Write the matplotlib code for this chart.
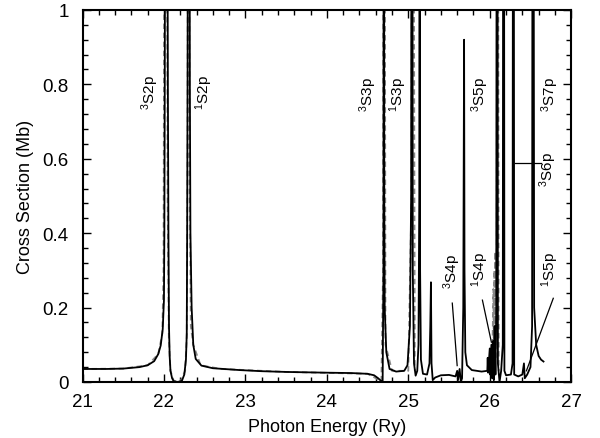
import matplotlib
matplotlib.use("Agg")
import matplotlib.pyplot as plt
from matplotlib.ticker import MultipleLocator, FuncFormatter

plt.rcParams['font.family'] = ['Liberation Sans', 'DejaVu Sans']
plt.rcParams['mathtext.fontset'] = 'custom'
plt.rcParams['mathtext.rm'] = 'Liberation Sans'
plt.rcParams['mathtext.it'] = 'Liberation Sans:italic'
plt.rcParams['mathtext.bf'] = 'Liberation Sans:bold'

# Solid curve (photon energy in Ry, cross section in Mb); peak tops are off-scale
energy = [21.0, 21.3, 21.5, 21.7, 21.8, 21.88, 21.93, 21.96, 21.985, 22.0, 22.005, 22.01, 22.025,
          22.048, 22.055, 22.062, 22.07, 22.08, 22.1, 22.12, 22.17, 22.22, 22.25, 22.27, 22.28,
          22.285, 22.29, 22.305, 22.318, 22.325, 22.34, 22.36, 22.39, 22.46, 22.6, 22.93, 23.2,
          23.5, 24.0, 24.3, 24.5, 24.58, 24.63, 24.67, 24.685, 24.695, 24.70, 24.705, 24.71,
          24.73, 24.77, 24.85, 24.95, 24.99, 25.02, 25.035, 25.045, 25.055, 25.07, 25.09, 25.11,
          25.125, 25.135, 25.14, 25.145, 25.155, 25.18, 25.23, 25.26, 25.27, 25.278, 25.285,
          25.30, 25.33, 25.4, 25.5, 25.58, 25.6, 25.61, 25.63, 25.645, 25.66, 25.675, 25.685,
          25.69, 25.70, 25.72, 25.78, 25.9, 25.97, 25.975, 25.98, 26.0, 26.005, 26.02, 26.03,
          26.04, 26.05, 26.06, 26.07, 26.08, 26.09, 26.1, 26.12, 26.14, 26.16, 26.17, 26.18,
          26.2, 26.26, 26.28, 26.29, 26.3, 26.35, 26.4, 26.42, 26.43, 26.46, 26.5, 26.52, 26.53,
          26.545, 26.57, 26.6, 26.63, 26.66]
cross = [0.035, 0.035, 0.036, 0.040, 0.045, 0.056, 0.075, 0.098, 0.142, 0.22, 0.4, 0.8, 3.0,
         0.8, 0.4, 0.15, 0.07, 0.03, 0.01, 0.002, 0.0, 0.003, 0.02, 0.06, 0.13,
         0.4, 0.8, 3.0, 0.8, 0.4, 0.2, 0.1, 0.062, 0.044, 0.037, 0.032, 0.029,
         0.027, 0.025, 0.024, 0.022, 0.018, 0.01, 0.002, 0.0, 0.3, 3.0, 0.5, 0.2,
         0.08, 0.035, 0.028, 0.03, 0.045, 0.15, 0.5, 3.0, 0.3, 0.05, 0.017, 0.03,
         0.1, 0.5, 3.0, 0.3, 0.06, 0.022, 0.02, 0.05, 0.15, 0.268, 0.05,
         0.005, 0.012, 0.018, 0.019, 0.015, 0.03, 0.005, 0.035, 0.0, 0.01, 0.2, 0.92,
         0.3, 0.08, 0.045, 0.032, 0.028, 0.03, 0.065, 0.025, 0.09, 0.02, 0.1, 0.01,
         0.11, 0.005, 0.15, 0.02, 0.2, 3.0, 0.05, 0.0, 0.03, 0.1, 3.0, 0.03,
         0.018, 0.02, 0.05, 3.0, 0.02, 0.015, 0.02, 0.05, 0.01, 0.02, 0.04, 0.15, 3.0,
         0.2, 0.1, 0.07, 0.06, 0.055]

# Dashed grey curve (second calculation), visible beside the main peaks
energy2a = [21.0, 21.5, 21.8, 21.93, 21.98, 21.995, 22.0, 22.02, 22.045, 22.06, 22.08, 22.12,
            22.2, 22.26, 22.28, 22.29, 22.3, 22.315, 22.33, 22.36, 22.45, 22.7, 23.5, 24.5,
            24.67, 24.69, 24.70, 24.72, 24.8, 25.0, 25.04, 25.05, 25.08]
cross2a = [0.035, 0.036, 0.045, 0.075, 0.13, 0.3, 0.8, 3.0, 0.5, 0.12, 0.03, 0.003,
           0.0, 0.03, 0.12, 0.6, 3.0, 0.6, 0.15, 0.1, 0.045, 0.035, 0.027, 0.022,
           0.002, 0.3, 3.0, 0.1, 0.03, 0.03, 0.5, 3.0, 0.03]
energy2b = [25.99, 26.03, 26.045, 26.05, 26.055, 26.06, 26.065, 26.07, 26.075, 26.085, 26.095, 26.11]
cross2b = [0.03, 0.05, 0.25, 0.05, 0.3, 0.08, 0.35, 0.06, 0.3, 0.1, 3.0, 0.03]

# Resonance labels: (text, x, y)
lab_text = [r'$^{3}$S2p', r'$^{1}$S2p', r'$^{3}$S3p', r'$^{1}$S3p', r'$^{3}$S5p',
            r'$^{3}$S7p', r'$^{3}$S6p', r'$^{3}$S4p', r'$^{1}$S4p', r'$^{1}$S5p']
lab_x = [21.83, 22.49, 24.51, 24.88, 25.88, 26.74, 26.72, 25.54, 25.88, 26.74]
lab_y = [0.78, 0.78, 0.775, 0.775, 0.775, 0.775, 0.575, 0.30, 0.305, 0.305]

# Pointer lines: (x0, y0, x1, y1)
ptr_x0 = [25.54, 25.91, 26.78, 26.31]
ptr_y0 = [0.212, 0.22, 0.225, 0.589]
ptr_x1 = [25.60, 26.02, 26.45, 26.63]
ptr_y1 = [0.044, 0.107, 0.03, 0.589]

fig = plt.figure(figsize=(6.0, 4.39), dpi=100)
ax = fig.add_axes([0.1375, 0.1276, 0.8145, 0.8474])

for ex, cy in ((energy2a, cross2a), (energy2b, cross2b)):
    ax.plot(ex, cy, color='#888888', lw=1.3, ls=(0, (3, 2)), zorder=2)
ax.plot(energy, cross, color='black', lw=1.3, zorder=3)

for t, x, y in zip(lab_text, lab_x, lab_y):
    ax.text(x, y, t, rotation=90, ha='center', va='center', fontsize=11)
for x0, y0, x1, y1 in zip(ptr_x0, ptr_y0, ptr_x1, ptr_y1):
    ax.plot([x0, x1], [y0, y1], color='black', lw=0.9, zorder=4)

ax.set_xlim(21, 27)
ax.set_ylim(0, 1)
ax.xaxis.set_major_locator(MultipleLocator(1))
ax.xaxis.set_minor_locator(MultipleLocator(0.2))
ax.yaxis.set_major_locator(MultipleLocator(0.2))
ax.yaxis.set_minor_locator(MultipleLocator(0.04))
ax.yaxis.set_major_formatter(FuncFormatter(lambda v, p: '%g' % round(v, 2)))
ax.tick_params(which='both', direction='in', top=True, right=True, labelsize=13.5, width=1.0)
ax.tick_params(which='major', length=6)
ax.tick_params(which='minor', length=3.5)
ax.tick_params(axis='y', which='major', pad=10)
ax.tick_params(axis='x', which='major', pad=8)
for s in ax.spines.values():
    s.set_linewidth(1.5)

ax.set_xlabel('Photon Energy (Ry)', fontsize=13, labelpad=6)
ax.set_ylabel('Cross Section (Mb)', fontsize=13, labelpad=6)

fig.savefig('out.png', dpi=100)
